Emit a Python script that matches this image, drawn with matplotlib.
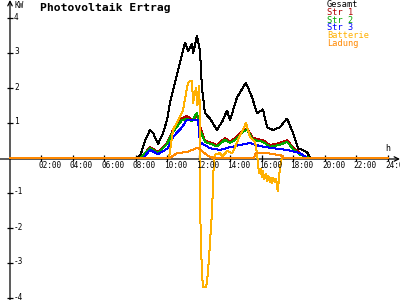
import matplotlib
matplotlib.use("Agg")
import matplotlib.pyplot as plt
from matplotlib.transforms import offset_copy

plt.rcParams["lines.antialiased"] = False

# ---------------- data (hours, kW) ----------------
t_gesamt = [0, 8.1, 8.3, 8.57, 8.89, 9.1, 9.4, 9.7, 9.97, 10.16, 10.67, 11.11, 11.30, 11.56,
            11.62, 11.87, 12.06, 12.19, 12.38, 12.70, 13.14, 13.52, 13.78, 13.97, 14.41,
            14.98, 15.37, 15.68, 16.06, 16.32, 16.70, 17.14, 17.59, 17.97, 18.29, 18.86,
            19.05, 24]
v_gesamt = [0, 0, 0.1, 0.5, 0.8, 0.7, 0.4, 0.7, 1.08, 1.6, 2.5, 3.3, 3.06, 3.26,
            2.98, 3.49, 3.06, 2.0, 1.28, 1.13, 0.8, 1.08, 1.36, 1.08, 1.73,
            2.15, 1.73, 1.28, 1.39, 0.88, 0.8, 0.88, 1.13, 0.71, 0.28, 0.17,
            0, 0]

t_str1 = [0, 8.3, 8.89, 9.40, 9.97, 10.35, 10.92, 11.24, 11.56, 11.87, 12.0, 12.06,
          12.38, 12.70, 13.14, 13.65, 13.97, 14.29, 14.79, 15.05, 15.43, 16.06, 16.51,
          17.14, 17.59, 17.97, 18.41, 18.9, 24]
v_str1 = [0, 0, 0.31, 0.17, 0.43, 0.8, 1.13, 1.2, 1.1, 1.2, 1.05, 0.9,
          0.5, 0.45, 0.37, 0.57, 0.47, 0.57, 0.8, 0.85, 0.57, 0.51, 0.37,
          0.43, 0.51, 0.31, 0.14, 0, 0]

t_str2 = [0, 8.3, 8.89, 9.40, 9.97, 10.35, 10.92, 11.24, 11.56, 11.87, 12.0, 12.06,
          12.38, 12.70, 13.14, 13.65, 13.97, 14.29, 14.79, 15.05, 15.43, 16.06, 16.51,
          17.14, 17.59, 17.97, 18.41, 19.0, 24]
v_str2 = [0, 0, 0.28, 0.15, 0.4, 0.75, 1.08, 1.12, 1.05, 1.3, 1.0, 0.8,
          0.46, 0.41, 0.33, 0.52, 0.43, 0.52, 0.75, 0.8, 0.52, 0.46, 0.32,
          0.38, 0.46, 0.26, 0.1, 0, 0]

t_str3 = [0, 8.45, 8.89, 9.40, 10.03, 10.35, 10.92, 11.24, 11.75, 11.94, 12.06, 12.70,
          13.33, 13.97, 14.6, 15.24, 15.87, 16.70, 17.59, 18.41, 18.86, 24]
v_str3 = [0, 0, 0.23, 0.11, 0.28, 0.6, 0.88, 1.1, 1.08, 1.08, 0.45, 0.28,
          0.23, 0.31, 0.37, 0.43, 0.34, 0.28, 0.23, 0.14, 0, 0]

t_batt = [0, 10.1, 10.35, 10.67, 10.98, 11.24, 11.3, 11.43, 11.56, 11.62, 11.81, 11.9,
          12.0, 12.06, 12.1, 12.22, 12.27, 12.45, 12.51, 12.63, 12.83, 12.95, 13.05,
          13.3, 13.5, 13.78, 14.1, 14.29, 14.6, 14.79, 14.98, 15.05, 15.24, 15.56,
          15.7, 15.75, 15.85, 15.9, 16.0, 16.06, 16.15, 16.25, 16.32, 16.4, 16.5,
          16.58, 16.64, 16.72, 16.8, 16.9, 17.0, 17.1, 17.2, 17.27, 24]
v_batt = [0, 0, 0.8, 1.08, 1.36, 2.0, 2.15, 2.2, 2.2, 1.56, 2.0, 1.5,
          2.07, 1.3, -2.3, -3.5, -3.68, -3.68, -3.55, -2.9, -1.5, 0, 0.1,
          0.14, 0.05, 0.2, 0.14, 0.31, 0.65, 0.8, 1.0, 0.9, 0.6, 0.45,
          0.1, -0.25, -0.45, -0.3, -0.55, -0.37, -0.6, -0.45, -0.68, -0.5, -0.7,
          -0.55, -0.72, -0.57, -0.68, -0.6, -0.96, -0.45, -0.1, 0, 0]

t_ladung = [0, 10.16, 10.6, 11.24, 11.56, 11.94, 12.06, 12.51, 12.89, 15.5, 15.6,
            16.3, 17.14, 17.3, 17.35, 24]
v_ladung = [0, 0, 0.14, 0.17, 0.23, 0.3, 0.25, 0.08, 0, 0, 0.14,
            0.14, 0.08, 0.06, 0, 0]

series = [("Gesamt", t_gesamt, v_gesamt, "black"),
          ("Str 1", t_str1, v_str1, "#b00000"),
          ("Str 2", t_str2, v_str2, "#00a800"),
          ("Str 3", t_str3, v_str3, "#0000ff"),
          ("Batterie", t_batt, v_batt, "#ffb000"),
          ("Ladung", t_ladung, v_ladung, "#ff8800")]

x_ticks = list(range(2, 25, 2))
x_labels = ["%02d:00" % h for h in x_ticks]
y_ticks = [-4, -3, -2, -1, 1, 2, 3, 4]

# ---------------- figure ----------------
fig = plt.figure(figsize=(4, 3), dpi=100)
ax = fig.add_axes([0, 0, 1, 1])
ax.set_xlim(-10 / 15.75, 390 / 15.75)
ax.set_ylim(-142 / 35.0, 158 / 35.0)

for name, t, v, col in series:
    ax.plot(t, v, color=col, lw=0.72, solid_joinstyle="miter", zorder=2)

# axes through the origin; the time axis sits one pixel below the zero line
for s in ["top", "right", "left", "bottom"]:
    ax.spines[s].set_visible(False)
ax.spines["left"].set_position(("data", 0))
ax.spines["bottom"].set_position(("data", 0))
below = offset_copy(ax.transData, fig=fig, x=0, y=-1, units="dots")
ax.annotate("", xy=(ax.get_xlim()[1], 0), xytext=(ax.get_xlim()[0], 0),
            xycoords=below, textcoords=below, zorder=1,
            arrowprops=dict(arrowstyle="->", lw=0.9, color="black",
                            shrinkA=0, shrinkB=0, mutation_scale=8))
ax.annotate("", xy=(0, ax.get_ylim()[1]), xytext=(0, ax.get_ylim()[0]), zorder=1,
            arrowprops=dict(arrowstyle="->", lw=0.9, color="black",
                            shrinkA=0, shrinkB=0, mutation_scale=8))

ax.set_xticks(x_ticks)
ax.set_yticks(y_ticks)
ax.tick_params(axis="both", direction="inout", length=4, width=0.9,
               labelbottom=False, labelleft=False)

mono = "DejaVu Sans Mono"
xt = offset_copy(ax.transData, fig=fig, x=-3, y=-7, units="dots")
for h, lab in zip(x_ticks, x_labels):
    ax.text(h, 0, lab, transform=xt, fontsize=5.6, family=mono,
            ha="left", va="center")
yt = offset_copy(ax.transData, fig=fig, x=4, y=1, units="dots")
for v in y_ticks:
    ax.text(0, v, str(v), transform=yt, fontsize=5.6, family=mono,
            ha="left", va="center")

fig.text(14 / 400, 1 - 5 / 300, "KW", fontsize=5.6, family=mono, va="center")
fig.text(385 / 400, 1 - 148 / 300, "h", fontsize=6, family=mono, va="center")
fig.text(40 / 400, 1 - 8 / 300, "Photovoltaik Ertrag", fontsize=8.2,
         family=mono, fontweight="bold", va="center")

for i, (name, t, v, col) in enumerate(series):
    fig.text(327 / 400, 1 - (4.5 + 7.8 * i) / 300, name, fontsize=6.2,
             family=mono, color=col, va="center")

fig.savefig("out.png", dpi=100)
